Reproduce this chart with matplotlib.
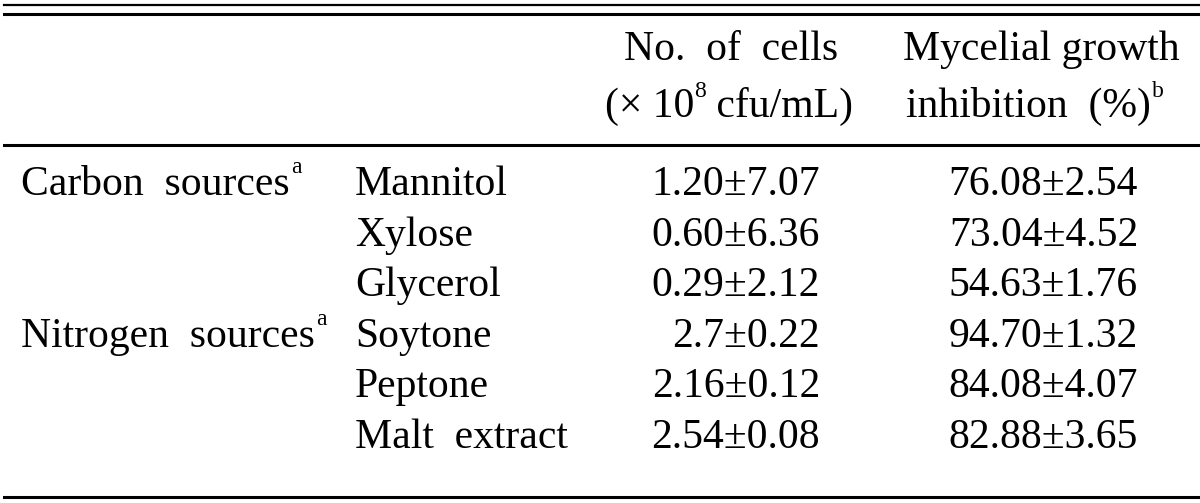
import matplotlib
matplotlib.use("Agg")
import matplotlib.pyplot as plt

# datos de la tabla
groups = ["Carbon sources", "", "", "Nitrogen sources", "", ""]
sources = ["Mannitol", "Xylose", "Glycerol", "Soytone", "Peptone", "Malt extract"]
cells_mean = ["1.20", "0.60", "0.29", "2.7", "2.16", "2.54"]
cells_sd = ["7.07", "6.36", "2.12", "0.22", "0.12", "0.08"]
inhib_mean = ["76.08", "73.04", "54.63", "94.70", "84.08", "82.88"]
inhib_sd = ["2.54", "4.52", "1.76", "1.32", "4.07", "3.65"]

plt.rcParams['font.family'] = ['Liberation Serif', 'DejaVu Serif']

fig = plt.figure(figsize=(12, 5.03), dpi=100)
ax = fig.add_axes([0, 0, 1, 1])
ax.set_xlim(0, 1200)
ax.set_ylim(503, 0)
ax.axis('off')

fs = 30       # texto normal
fs_sup = 17   # superíndices


def superindice(t, s, y, dx=1):
    # pone un superíndice pequeño justo a la derecha del texto t
    return ax.annotate(s, xy=(1, y), xycoords=(t, 'data'), xytext=(dx, 0),
                       textcoords='offset pixels', fontsize=fs_sup,
                       ha='left', va='baseline')


# líneas horizontales
ax.plot([4, 1200], [5, 5], color='black', lw=1.6)
ax.plot([4, 1200], [13.5, 13.5], color='black', lw=2.2)
ax.plot([4, 1200], [145, 145], color='black', lw=2.2)
ax.plot([4, 1200], [497, 497], color='black', lw=2.2)

# encabezados
h1, h2 = 60, 117
ax.text(731, h1, "No.  of  cells", fontsize=fs, ha='center', va='baseline')
t = ax.text(605, h2, "(× 10", fontsize=fs, ha='left', va='baseline')
t8 = superindice(t, "8", h2 - 20, dx=0)
ax.annotate(" cfu/mL)", xy=(1, h2), xycoords=(t8, 'data'), fontsize=fs,
            ha='left', va='baseline')
ax.text(1041, h1, "Mycelial growth", fontsize=fs, ha='center', va='baseline')
t = ax.text(906, h2, "inhibition  (%)", fontsize=fs, ha='left', va='baseline')
superindice(t, "b", h2 - 20)

# filas
y0, dy = 195, 50.6
for i in range(len(sources)):
    y = y0 + i*dy
    if groups[i]:
        t = ax.text(21, y, groups[i].replace(" ", "  "), fontsize=fs,
                    ha='left', va='baseline')
        superindice(t, "a", y - 22)
    ax.text(355, y, sources[i].replace(" ", "  "), fontsize=fs,
            ha='left', va='baseline')
    ax.text(820, y, cells_mean[i] + "±" + cells_sd[i], fontsize=fs,
            ha='right', va='baseline')
    ax.text(1138, y, inhib_mean[i] + "±" + inhib_sd[i], fontsize=fs,
            ha='right', va='baseline')

fig.savefig("out.png", dpi=100)
